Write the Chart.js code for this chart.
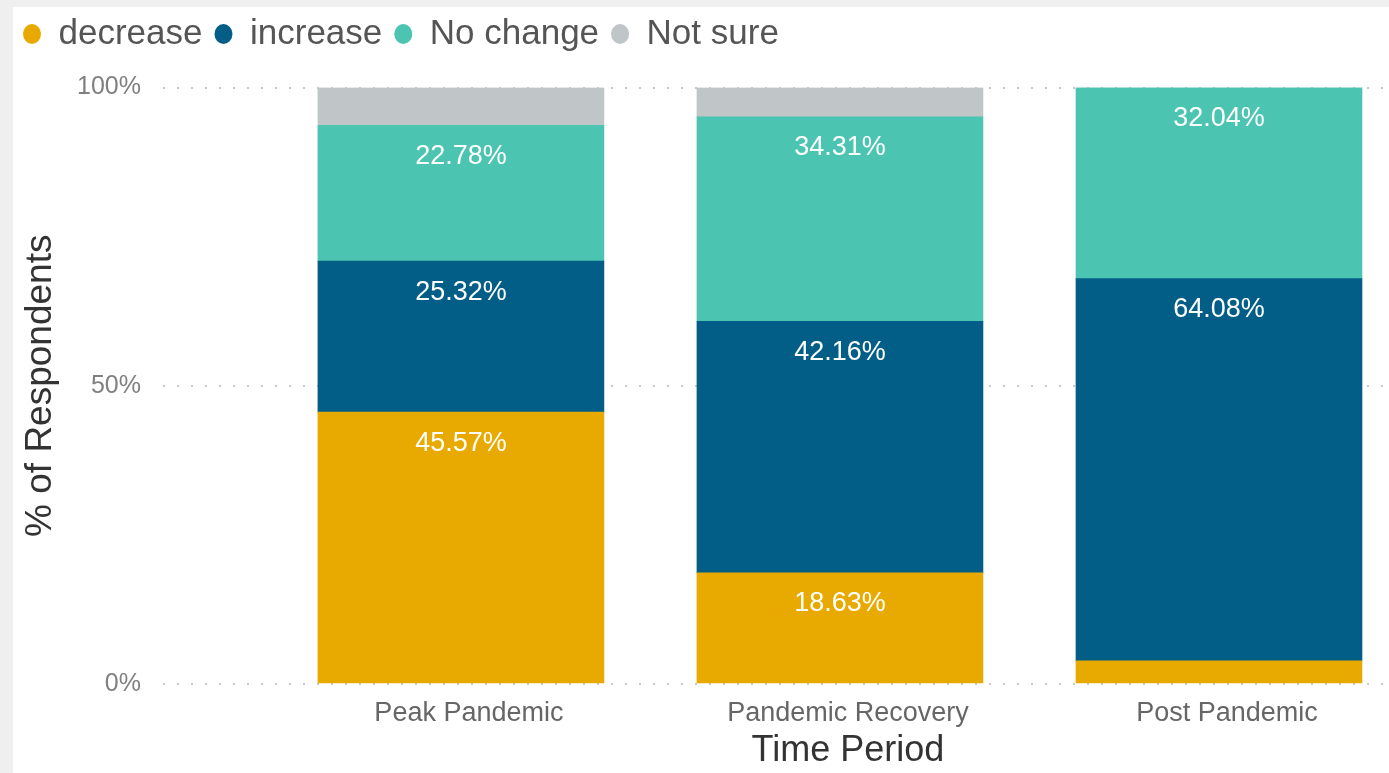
<!DOCTYPE html>
<html>
<head>
<meta charset="utf-8">
<script src="https://cdn.jsdelivr.net/npm/chart.js@4.4.0/dist/chart.umd.min.js"></script>
<style>
  html, body { margin: 0; padding: 0; background: #efefef; width: 1389px; height: 773px; overflow: hidden; }
  #panel { position: absolute; left: 13px; top: 7px; width: 1376px; height: 766px; background: #ffffff; }
  #wrap { position: absolute; left: 13px; top: 7px; width: 1376px; height: 766px; }
</style>
</head>
<body>
<div id="panel"></div>
<div id="wrap"><canvas id="chart-bar"></canvas></div>
<script>
// values (percent of respondents)
var periods = ["Peak Pandemic", "Pandemic Recovery", "Post Pandemic"];
var decrease = [45.57, 18.63, 3.88];
var increase = [25.32, 42.16, 64.08];
var noChange = [22.78, 34.31, 32.04];
var notSure = [6.33, 4.90, 0];
var yTicks = [0, 50, 100];
var xTitle = "Time Period";

var FONT = "'Liberation Sans', Arial, sans-serif";

function pts(arr) {
  return arr.map(function (v, i) { return { x: i, y: v }; });
}

// white % labels near the top of each segment
var segLabels = {
  id: "segLabels",
  afterDatasetsDraw: function (chart) {
    var ctx = chart.ctx;
    ctx.save();
    ctx.font = "27px " + FONT;
    ctx.fillStyle = "#ffffff";
    ctx.textAlign = "center";
    ctx.textBaseline = "middle";
    chart.data.datasets.forEach(function (ds, di) {
      if (!ds.showLabels) return;
      var meta = chart.getDatasetMeta(di);
      meta.data.forEach(function (bar, i) {
        var v = ds.data[i].y;
        if (v < 10) return;
        ctx.fillText(v.toFixed(2) + "%", bar.x, bar.y + 31);
      });
    });
    ctx.restore();
  }
};

// x axis title, centred under the middle category like the original
var xTitlePlugin = {
  id: "xTitlePlugin",
  afterDraw: function (chart) {
    var ctx = chart.ctx;
    var xs = chart.scales.x;
    ctx.save();
    ctx.font = "36px " + FONT;
    ctx.fillStyle = "#333333";
    ctx.textAlign = "center";
    ctx.textBaseline = "middle";
    ctx.fillText(xTitle, xs.getPixelForValue(1) + 8, chart.chartArea.bottom + 67);
    ctx.restore();
  }
};

// extra room under the legend
var legendGap = {
  id: "legendGap",
  beforeLayout: function (chart) {
    var lg = chart.legend;
    if (lg && !lg._gapped) {
      var fit = lg.fit;
      lg.fit = function () {
        fit.call(this);
        this.height += 26;
      };
      lg._gapped = true;
    }
  }
};

var ctx = document.getElementById("chart-bar").getContext("2d");

new Chart(ctx, {
  type: "bar",
  data: {
    datasets: [
      { label: "decrease", data: pts(decrease), backgroundColor: "#e8aa00", barThickness: 286, showLabels: true },
      { label: "increase", data: pts(increase), backgroundColor: "#035e87", barThickness: 286, showLabels: true },
      { label: "No change", data: pts(noChange), backgroundColor: "#4bc5b2", barThickness: 286, showLabels: true },
      { label: "Not sure", data: pts(notSure), backgroundColor: "#c0c5c8", barThickness: 286, showLabels: false },
    ],
  },
  options: {
    responsive: true,
    maintainAspectRatio: false,
    animation: false,
    layout: {
      padding: { top: -2.5, right: 4, bottom: 0, left: -2 },
    },
    plugins: {
      legend: {
        display: true,
        position: "top",
        align: "start",
        labels: {
          usePointStyle: true,
          pointStyle: "circle",
          pointStyleWidth: 18,
          boxHeight: 14,
          padding: 12,
          color: "#555555",
          font: { size: 35, family: FONT },
        },
      },
      tooltip: { enabled: false },
    },
    scales: {
      x: {
        type: "linear",
        stacked: true,
        offset: false,
        min: -0.786,
        max: 2.438,
        grid: { display: false, drawTicks: false },
        border: { display: false },
        afterFit: function (scale) { scale.height = 89; },
        ticks: {
          stepSize: 1,
          includeBounds: false,
          autoSkip: false,
          maxRotation: 0,
          padding: 13,
          labelOffset: 8,
          color: "#666666",
          font: { size: 27, family: FONT },
          callback: function (v) {
            return Number.isInteger(v) && periods[v] ? periods[v] : "";
          },
        },
        title: { display: false },
      },
      y: {
        stacked: true,
        min: 0,
        max: 100,
        afterFit: function (scale) { scale.width = 152; },
        afterBuildTicks: function (scale) {
          scale.ticks = yTicks.map(function (v) { return { value: v }; });
        },
        grid: {
          display: true,
          drawTicks: false,
          color: "#c8c8c8",
          lineWidth: 2,
        },
        border: { display: false, dash: [2, 12] },
        ticks: {
          padding: 22,
          color: "#808080",
          font: { size: 25, family: FONT },
          callback: function (v) { return v + "%"; },
        },
        title: {
          display: true,
          text: "% of Respondents",
          color: "#333333",
          padding: { top: 8, bottom: 4 },
          font: { size: 37, family: FONT },
        },
      },
    },
  },
  plugins: [segLabels, xTitlePlugin, legendGap],
});
</script>
</body>
</html>
